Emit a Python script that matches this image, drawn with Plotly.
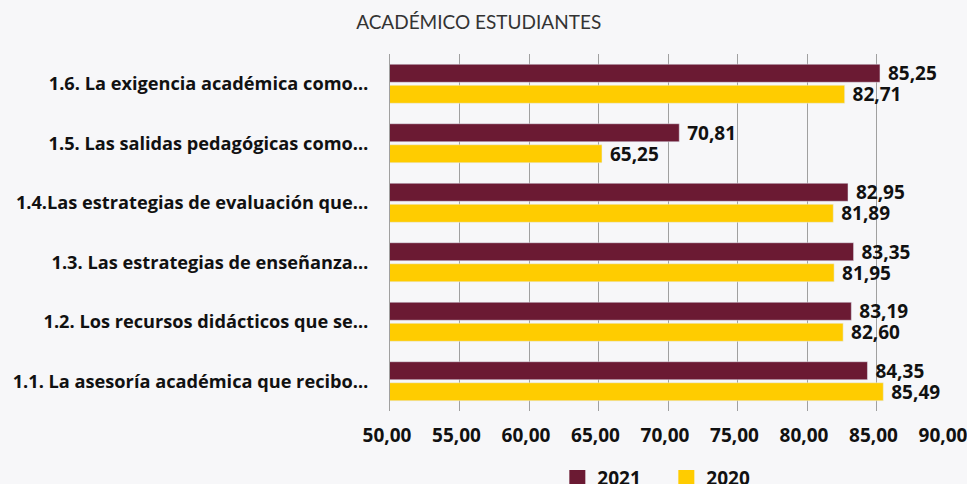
import plotly.graph_objects as go

categories = [
    "1.1. La asesoría académica que recibo…",
    "1.2. Los recursos didácticos que se…",
    "1.3. Las estrategias de enseñanza…",
    "1.4.Las estrategias de evaluación que…",
    "1.5. Las salidas pedagógicas como…",
    "1.6. La exigencia académica como…",
]
values_2021 = [84.35, 83.19, 83.35, 82.95, 70.81, 85.25]
values_2020 = [85.49, 82.60, 81.95, 81.89, 65.25, 82.71]
tick_vals = [50, 55, 60, 65, 70, 75, 80, 85, 90]
tick_text = ["50,00", "55,00", "60,00", "65,00", "70,00", "75,00", "80,00", "85,00", "90,00"]

C2021 = "#6B1A33"
C2020 = "#FFCC00"

def fmt(v):
    return "\u00a0" + f"{v:.2f}".replace(".", ",")

FONT = "Open Sans"
BG = "#F7F7F9"
TXT = "#111111"

fig = go.Figure()
fig.add_trace(go.Bar(
    y=categories, x=values_2020, orientation="h", name="2020", showlegend=False,
    marker_color=C2020, text=[fmt(v) for v in values_2020],
    textposition="outside", cliponaxis=False, constraintext="none",
    textfont=dict(family=FONT, size=19, color=TXT, weight="bold"),
))
fig.add_trace(go.Bar(
    y=categories, x=values_2021, orientation="h", name="2021", showlegend=False,
    marker_color=C2021, text=[fmt(v) for v in values_2021],
    textposition="outside", cliponaxis=False, constraintext="none",
    textfont=dict(family=FONT, size=19, color=TXT, weight="bold"),
))
# legend entries
for name, col in [("2021", C2021), ("2020", C2020)]:
    fig.add_trace(go.Scatter(
        x=[None], y=[None], mode="markers", name=name,
        marker=dict(symbol="square", size=17, color=col),
    ))

fig.update_layout(
    width=967, height=484,
    paper_bgcolor=BG, plot_bgcolor=BG,
    margin=dict(l=390, r=21, t=54, b=73, autoexpand=False),
    barmode="group", bargap=0.293, bargroupgap=0.143,
    title=dict(text="ACADÉMICO ESTUDIANTES", x=0.495, xanchor="center",
               yref="container", y=1 - 22 / 484, yanchor="middle",
               font=dict(family="Lato", size=19, color="#333333")),
    legend=dict(orientation="h", x=0.497, xanchor="center", y=-0.188, yanchor="middle",
                font=dict(family=FONT, size=19, color=TXT, weight="bold"),
                itemwidth=30, entrywidth=64, entrywidthmode="pixels",
                bgcolor="rgba(0,0,0,0)"),
    showlegend=True,
)
fig.update_xaxes(
    range=[50, 90], tickvals=tick_vals, ticktext=tick_text, automargin=False,
    showgrid=True, gridcolor="#A0A0A0", gridwidth=1, zeroline=False,
    tickfont=dict(family=FONT, size=19, color=TXT, weight="bold"),
    showline=False, ticks="outside", ticklen=0, tickcolor="#A0A0A0",
    ticklabelstandoff=7, ticklabelshift=-3, ticklabeloverflow="allow",
)
fig.update_yaxes(
    showgrid=False, showline=True, linecolor="#A0A0A0", linewidth=1, automargin=False,
    tickfont=dict(family=FONT, size=18.2, color=TXT, weight="bold"),
    ticks="", ticklabelstandoff=17,
)

fig.write_html("out.html", config={"displayModeBar": False})
with open("out.html", encoding="utf-8") as f:
    html = f.read()
html = html.replace("<head>", "<head><style>html,body{margin:0;padding:0;overflow:hidden;}</style>", 1)
with open("out.html", "w", encoding="utf-8") as f:
    f.write(html)
